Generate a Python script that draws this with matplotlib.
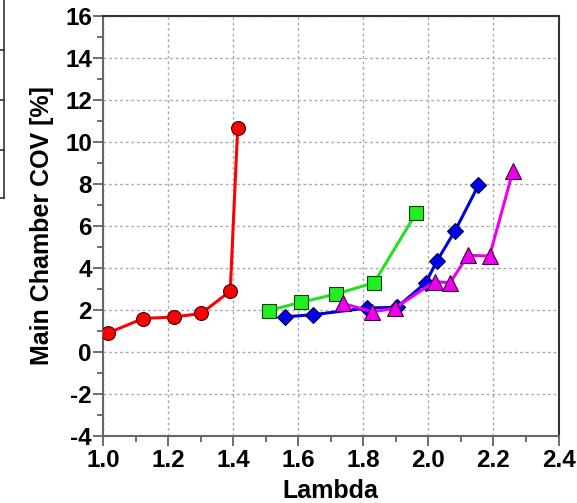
import matplotlib.pyplot as plt
from matplotlib.lines import Line2D
from matplotlib.ticker import MultipleLocator

plt.rcParams['font.family'] = ['Liberation Sans', 'DejaVu Sans']
plt.rcParams['font.weight'] = 'bold'

# data
red_x = [1.014, 1.123, 1.217, 1.302, 1.391, 1.414]
red_y = [0.90, 1.60, 1.67, 1.84, 2.90, 10.68]

green_x = [1.509, 1.607, 1.716, 1.833, 1.962]
green_y = [1.97, 2.37, 2.76, 3.30, 6.60]

blue_x = [1.558, 1.646, 1.811, 1.903, 1.992, 2.026, 2.082, 2.154]
blue_y = [1.68, 1.78, 2.10, 2.13, 3.30, 4.33, 5.77, 7.94]

pink_x = [1.737, 1.828, 1.896, 2.019, 2.067, 2.121, 2.188, 2.260]
pink_y = [2.32, 1.92, 2.08, 3.35, 3.30, 4.60, 4.57, 8.62]

x_ticks = [1.0, 1.2, 1.4, 1.6, 1.8, 2.0, 2.2, 2.4]
y_ticks = [-4, -2, 0, 2, 4, 6, 8, 10, 12, 14, 16]

fig = plt.figure(figsize=(5.77, 5.03), dpi=100)
ax = fig.add_axes([0.1785, 0.1326, 0.7895, 0.8364])

ax.plot(red_x, red_y, color='#ff0000', lw=2.2, marker='o', ms=10,
        mfc='#ff0000', mec='#400000', mew=0.8, zorder=3)
ax.plot(green_x, green_y, color='#22e022', lw=2.2, marker='s', ms=10,
        mfc='#22ee22', mec='#104010', mew=0.8, zorder=3)
ax.plot(blue_x, blue_y, color='#0000dd', lw=2.2, marker='D', ms=8.5,
        mfc='#0000ee', mec='#000040', mew=0.8, zorder=4)
ax.plot(pink_x, pink_y, color='#ee00ee', lw=2.2, marker='^', ms=12,
        mfc='#ee00ee', mec='#400040', mew=0.8, zorder=5)

ax.set_xlim(1.0, 2.4)
ax.set_ylim(-4, 16)
ax.set_xticks(x_ticks)
ax.set_yticks(y_ticks)
ax.set_xticklabels([f'{v:.1f}' for v in x_ticks])
ax.set_yticklabels([str(v) for v in y_ticks])
ax.xaxis.set_minor_locator(MultipleLocator(0.1))
ax.yaxis.set_minor_locator(MultipleLocator(1))
ax.tick_params(which='major', direction='out', length=7, width=1.2,
               color='#555555', labelsize=17.5, pad=1)
ax.tick_params(axis='x', which='major', pad=2)
ax.tick_params(which='minor', direction='out', length=4, width=1.2,
               color='#555555')
ax.tick_params(top=False, right=False)

ax.grid(True, which='major', ls=(0, (2, 2)), color='#aaaaaa', lw=1)
ax.set_axisbelow(True)
for side in ['left', 'bottom']:
    ax.spines[side].set_color('#666666')
    ax.spines[side].set_linewidth(1.5)
for side in ['top', 'right']:
    ax.spines[side].set_color('#333333')
    ax.spines[side].set_linewidth(1.5)

ax.set_xlabel('Lambda', fontsize=18, fontweight='bold', labelpad=5)
ax.set_ylabel('Main Chamber COV [%]', fontsize=18, fontweight='bold', labelpad=8)

# cropped legend frame at the left edge
fw, fh = 577, 503
fig.add_artist(Line2D([3.5 / fw, 3.5 / fw], [1, 1 - 198 / fh], color='#333333', lw=1.2))
for yy in [50, 100, 150, 198]:
    fig.add_artist(Line2D([0, 3.5 / fw], [1 - yy / fh, 1 - yy / fh], color='#333333', lw=1.2))

fig.savefig('out.png', dpi=100)
